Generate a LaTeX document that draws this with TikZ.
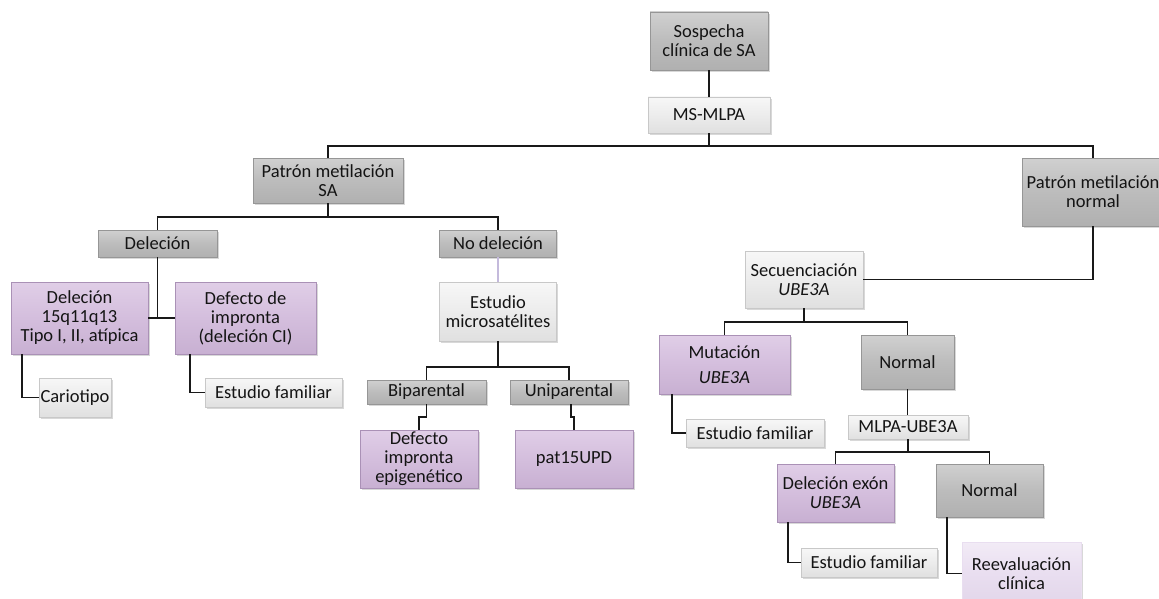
\documentclass[tikz,border=0pt]{standalone}
\usepackage{fontspec}
\setmainfont{Carlito}
\usetikzlibrary{shadows}
\definecolor{gbase}{RGB}{188,188,188}
\definecolor{gtop}{RGB}{208,208,208}
\definecolor{gbot}{RGB}{176,176,176}
\definecolor{gline}{RGB}{150,150,150}
\definecolor{lbase}{RGB}{236,236,236}
\definecolor{ltop}{RGB}{247,247,247}
\definecolor{lbot}{RGB}{224,224,224}
\definecolor{lline}{RGB}{200,200,200}
\definecolor{pbase}{RGB}{212,190,221}
\definecolor{ptop}{RGB}{224,206,231}
\definecolor{pbot}{RGB}{200,176,210}
\definecolor{pline}{RGB}{170,145,182}
\definecolor{rbase}{RGB}{233,222,240}
\definecolor{rtop}{RGB}{242,235,246}
\definecolor{rbot}{RGB}{226,214,234}
\definecolor{lav}{RGB}{196,186,220}
\tikzset{
  boxbase/.style={rectangle, inner sep=1pt, align=center, text=black!92,
    font=\fontsize{18.5}{19}\selectfont,
    drop shadow={opacity=0.3, shadow xshift=1.5pt, shadow yshift=-2pt}},
  graybox/.style={boxbase, draw=gline, line width=0.6pt, top color=gtop, bottom color=gbot, middle color=gbase},
  lightbox/.style={boxbase, draw=lline, line width=0.6pt, top color=ltop, bottom color=lbot, middle color=lbase},
  purplebox/.style={boxbase, draw=pline, line width=0.6pt, top color=ptop, bottom color=pbot, middle color=pbase},
  reevbox/.style={boxbase, draw=rbase, line width=0.6pt, top color=rtop, bottom color=rbot, middle color=rbase},
  wh/.style 2 args={minimum width=#1pt, minimum height=#2pt},
  conn/.style={draw=black!90, line width=1.7pt},
  lavconn/.style={draw=lav, line width=1.7pt}
}
\begin{document}
\begin{tikzpicture}[x=1pt,y=-1pt]
\useasboundingbox[fill=white] (0,0) rectangle (1159,599);
% nodes
\node[graybox, wh={118}{58}] (sosp) at (709,41) {Sospecha\\clínica de SA};
\node[lightbox, wh={122}{36}] (msmlpa) at (709,115) {MS-MLPA};
\node[graybox, wh={150}{45}] (patSA) at (328,180.5) {Patrón metilación\\SA};
\node[graybox, wh={142}{68}] (patN) at (1093,192) {Patrón metilación\\normal};
\node[graybox, wh={119}{27}] (del) at (157.5,243.5) {Deleción};
\node[graybox, wh={117}{27}] (nodel) at (498,243.5) {No deleción};
\node[purplebox, wh={137}{72}] (del15) at (79.5,318) {Deleción\\15q11q13\\Tipo I, II, atípica};
\node[purplebox, wh={141}{72}] (defimp) at (245.5,318) {Defecto de\\impronta\\(deleción CI)};
\node[lightbox, wh={72}{39}] (cario) at (75,397.5) {Cariotipo};
\node[lightbox, wh={137}{29}] (estfam1) at (273.5,392.5) {Estudio familiar};
\node[lightbox, wh={117}{59}] (estmic) at (498,311.5) {Estudio\\microsatélites};
\node[graybox, wh={119}{24}] (bip) at (426.5,392) {Biparental};
\node[graybox, wh={118}{24}] (unip) at (569,392) {Uniparental};
\node[purplebox, wh={118}{58}] (defepi) at (419,459) {Defecto\\impronta\\epigenético};
\node[purplebox, wh={118}{58}] (pat15) at (574,459) {pat15UPD};
\node[lightbox, wh={118}{57}] (secu) at (804,279.5) {Secuenciación\\\textit{UBE3A}};
\node[purplebox, wh={131}{59}] (mut) at (724.5,364.5) {Mutación\\[6pt]\textit{UBE3A}};
\node[graybox, wh={93}{54}] (norm1) at (907.5,362) {Normal};
\node[lightbox, wh={138}{28}] (estfam2) at (755,433) {Estudio familiar};
\node[lightbox, wh={120}{24}] (mlpa) at (908,427) {MLPA-UBE3A};
\node[purplebox, wh={117}{58}] (delex) at (835.5,493) {Deleción exón\\\textit{UBE3A}};
\node[graybox, wh={107}{53}] (norm2) at (989.5,490.5) {Normal};
\node[lightbox, wh={136}{29}] (estfam3) at (869,562.5) {Estudio familiar};
\node[reevbox, wh={119}{63}] (reev) at (1021.5,573.5) {Reevaluación\\clínica};
% junctions
\coordinate (b1) at (709,146);
\coordinate (b2) at (328,217);
\coordinate (b3) at (157.5,318);
\coordinate (b4) at (498,367);
\coordinate (b5) at (804,322);
\coordinate (b6) at (908,452);
% connectors
\draw[conn] (sosp.south) -- (msmlpa.north);
\draw[conn] (msmlpa.south) -- (b1);
\draw[conn] (patSA.north) |- (b1) -| (patN.north);
\draw[conn] (patSA.south) -- (b2);
\draw[conn] (del.north) |- (b2) -| (nodel.north);
\draw[conn] (del.south) -- (b3);
\draw[conn] (del15.east) -- (defimp.west);
\draw[lavconn] (nodel.south) -- (estmic.north);
\draw[conn] (estmic.south) -- (b4);
\draw[conn] (bip.north) |- (b4) -| (unip.north);
\draw[conn] (bip.south) -- ++(0,13) -| (defepi.north);
\draw[conn] ([xshift=2pt]unip.south) -- ++(0,13) -| (pat15.north);
\draw[conn] ([xshift=11pt]del15.south west) |- (cario.west);
\draw[conn] ([xshift=15pt]defimp.south west) |- (estfam1.west);
\draw[conn] (patN.south) |- (secu.east);
\draw[conn] (secu.south) -- (b5);
\draw[conn] (mut.north) |- (b5) -| (norm1.north);
\draw[conn] ([xshift=13pt]mut.south west) |- (estfam2.west);
\draw[conn] (norm1.south) -- (norm1.south |- mlpa.north);
\draw[conn] (mlpa.south) -- (b6);
\draw[conn] (delex.north) |- (b6) -| (norm2.north);
\draw[conn] ([xshift=11pt]delex.south west) |- (estfam3.west);
\draw[conn] ([xshift=11pt]norm2.south west) |- (reev.west);
\end{tikzpicture}
\end{document}
